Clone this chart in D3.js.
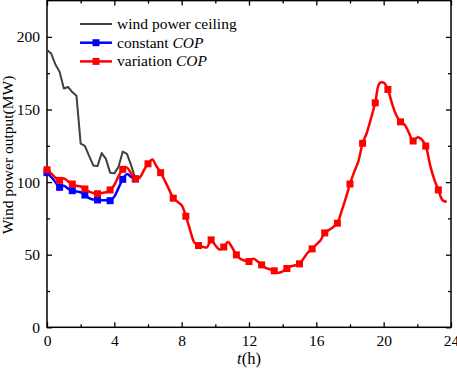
<!DOCTYPE html>
<html>
<head>
<meta charset="utf-8">
<script src="https://cdn.jsdelivr.net/npm/d3@7"></script>
<style>
    body { margin: 0; background: #fff; }
    svg { display: block; font-family: "Liberation Serif", "Times New Roman", serif; }
    svg text { font-family: "Liberation Serif", "Times New Roman", serif !important; }
</style>
</head>
<body>
<div id="chart"></div>
<script>
// time in hours, one sample every 15 min
const redTimes = d3.range(96).map(i => i / 4);
const sideTimes = d3.range(22).map(i => i / 4);

// variation COP (whole day)
const variationCOP = [
    108.5, 106, 103, 101.2, 102.5, 100.5, 98.7, 97.5, 97, 95.3, 93.5, 92.5,
    92, 92.5, 93, 94.6, 98, 104, 108.8, 110, 106, 102.2, 103, 108,
    112.6, 115.5, 111, 106.5, 101, 95, 88.9, 86.5, 84, 76.5, 67, 58.5,
    56.3, 55.5, 55, 60.2, 56.5, 53.5, 55.3, 58.8, 55, 49.9, 47, 46,
    45.3, 47.2, 45.5, 43, 41, 40, 38.9, 37.5, 38.5, 40.5, 42, 42.7,
    43.7, 47.5, 51.5, 54, 57, 60, 65, 67, 69, 71.7, 80, 89,
    98.7, 107, 114.5, 126.7, 134, 144, 154.6, 168, 168.5, 163.8, 154, 146,
    141.5, 139.5, 134, 128.3, 130.8, 129.5, 124.8, 112, 102, 94.6, 87.5, 86.5
];

// constant COP (differs only in the early hours)
const constantCOP = [
    106.5, 103.5, 100, 96.4, 97.5, 95.5, 94.1, 93.5, 93, 91.1, 89, 88,
    87.7, 87.5, 87.5, 87.2, 90, 96, 101.9, 105.5, 103.5, 102.2
];

// wind power ceiling
const ceiling = [
    191, 188.5, 181, 176, 164.5, 165.5, 162, 159.5, 126.5, 125, 118, 111.5,
    111, 120, 116, 106.5, 106, 110.5, 121, 119.5, 111.5, 102.2
];

const xTicks = [0, 4, 8, 12, 16, 20, 24];
const yTicks = [0, 50, 100, 150, 200];
const legendNames = ['wind power ceiling', 'constant ', 'variation '];

const width = 457, height = 369;
const margin = { top: 0.6, right: 6, bottom: 41.7, left: 47 };
const innerW = width - margin.left - margin.right;
const innerH = height - margin.top - margin.bottom;

const svg = d3.select('#chart').append('svg')
    .attr('width', width)
    .attr('height', height);

const g = svg.append('g')
    .attr('transform', `translate(${margin.left},${margin.top})`);

const x = d3.scaleLinear().domain([0, 24]).range([0, innerW]);
const y = d3.scaleLinear().domain([0, 225]).range([innerH, 0]);

// inward ticks (major + minor), no labels
function drawTicks(axisGen, transform, major, minor) {
    [[minor, 3], [major, 5]].forEach(([vals, size]) => {
        const sel = g.append('g').attr('transform', transform)
            .call(axisGen.tickValues(vals).tickSize(size).tickFormat(''));
        sel.select('.domain').remove();
        sel.selectAll('.tick line').attr('stroke', '#000').attr('stroke-width', 1.3);
    });
}

// labels only
function drawLabels(axisGen, transform, vals, pad) {
    const sel = g.append('g').attr('transform', transform)
        .call(axisGen.tickValues(vals).tickSize(0).tickPadding(pad).tickFormat(d3.format('d')))
        .attr('font-family', null)
        .attr('font-size', null);
    sel.select('.domain').remove();
    sel.selectAll('text')
        .attr('fill', '#000')
        .style('font-size', '15.5px');
}

const xMinor = d3.range(2, 24, 4);
const yMinor = d3.range(25, 225, 50);

drawTicks(d3.axisTop(x), `translate(0,${innerH})`, xTicks, xMinor);      // bottom
drawTicks(d3.axisBottom(x), 'translate(0,0)', xTicks, xMinor);            // top
drawTicks(d3.axisRight(y), 'translate(0,0)', yTicks, yMinor);             // left
drawTicks(d3.axisLeft(y), `translate(${innerW},0)`, yTicks, yMinor);      // right

drawLabels(d3.axisBottom(x), `translate(0,${innerH})`, xTicks, 8);
drawLabels(d3.axisLeft(y), 'translate(0,0)', yTicks, 7);

// frame
g.append('rect')
    .attr('width', innerW).attr('height', innerH)
    .attr('fill', 'none').attr('stroke', '#000').attr('stroke-width', 1.5);

// lines
const straight = d3.line().x(d => x(d[0])).y(d => y(d[1]));
const smooth = d3.line().x(d => x(d[0])).y(d => y(d[1])).curve(d3.curveCatmullRom);

const plot = g.append('g');

function series(times, values, color, lineGen, lw, markers) {
    const pts = times.map((t, i) => [t, values[i]]);
    plot.append('path')
        .datum(pts)
        .attr('d', lineGen)
        .attr('fill', 'none')
        .attr('stroke', color)
        .attr('stroke-width', lw)
        .attr('stroke-linejoin', 'round');
    if (markers) {
        plot.selectAll(null)
            .data(pts.filter((d, i) => i % 3 === 0))
            .join('rect')
            .attr('x', d => x(d[0]) - 3.5)
            .attr('y', d => y(d[1]) - 3.5)
            .attr('width', 7).attr('height', 7)
            .attr('fill', color);
    }
}

series(sideTimes, ceiling, '#404040', straight, 2, false);
series(sideTimes, constantCOP, '#0000ff', smooth, 2.5, true);
series(redTimes, variationCOP, '#ff0000', smooth, 2.5, true);

// legend
const legendColors = ['#404040', '#0000ff', '#ff0000'];
const legend = svg.append('g');
legendNames.forEach((name, i) => {
    const ly = 24 + i * 18.7;
    legend.append('line')
        .attr('x1', 80).attr('x2', 112).attr('y1', ly).attr('y2', ly)
        .attr('stroke', legendColors[i]).attr('stroke-width', i === 0 ? 2 : 2.5);
    if (i > 0) {
        legend.append('rect')
            .attr('x', 96 - 3.5).attr('y', ly - 3.5)
            .attr('width', 7).attr('height', 7)
            .attr('fill', legendColors[i]);
    }
    const txt = legend.append('text')
        .attr('x', 117).attr('y', ly + 5)
        .style('font-size', '15.5px')
        .text(name);
    if (i > 0) txt.append('tspan').style('font-style', 'italic').text('COP');
});

// axis titles
svg.append('text')
    .attr('transform', 'translate(13,155) rotate(-90)')
    .attr('text-anchor', 'middle')
    .style('font-size', '15.5px')
    .text('Wind power output(MW)');

const xt = svg.append('text')
    .attr('x', margin.left + innerW / 2)
    .attr('y', 364)
    .attr('text-anchor', 'middle')
    .style('font-size', '16.5px');
xt.append('tspan').style('font-style', 'italic').text('t');
xt.append('tspan').text('(h)');
</script>
</body>
</html>
